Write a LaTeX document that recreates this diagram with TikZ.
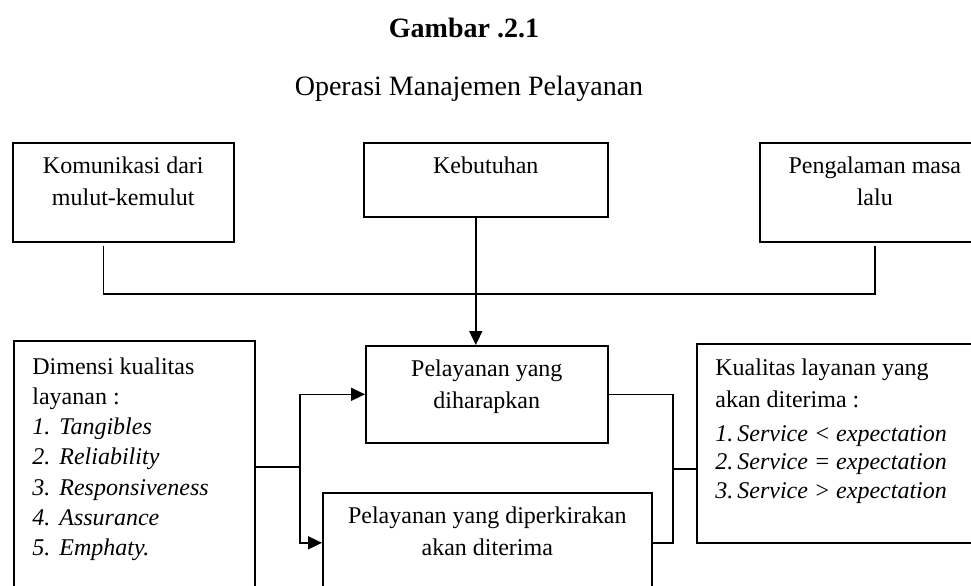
\documentclass[tikz,border=0pt]{standalone}
\usepackage{fontspec}
\setmainfont{Liberation Serif}
\usetikzlibrary{arrows.meta,positioning}
\tikzset{
  box/.style={draw, line width=0.8pt, inner sep=0pt, anchor=north west},
  txt/.style={font=\fontsize{12}{16}\selectfont, align=center, inner sep=0pt},
  lst/.style={font=\fontsize{12}{15.1}\selectfont, align=left, inner sep=0pt},
  ln/.style={line width=0.8pt},
  arr/.style={-{Triangle[length=7pt,width=6.5pt]}, line width=0.8pt}
}
\newcommand{\itm}[2]{\textit{#1.\hspace{4.5pt}#2}}

\begin{document}
\begin{tikzpicture}[x=0.5pt,y=-0.5pt]
\useasboundingbox (0,0) rectangle (971,585);
\clip (0,0) rectangle (971,585);

% ---------------- Title ----------------
\node[font=\fontsize{14}{16}\selectfont\bfseries, anchor=base, inner sep=0pt] (ttl) at (464,37) {Gambar .2.1};
\node[font=\fontsize{14}{16}\selectfont, anchor=base, inner sep=0pt] (sub) at (469,95) {Operasi Manajemen Pelayanan};

% ---------------- Top row ----------------
\node[box, minimum width=110.5pt, minimum height=49.5pt] (kom) at (12,142) {};
\node[txt, below=7.3pt of kom.north] {Komunikasi dari\\mulut-kemulut};
\node[box, minimum width=122pt, minimum height=37pt] (keb) at (363,142) {};
\node[txt, below=7.3pt of keb.north] {Kebutuhan};
\node[box, minimum width=115pt, minimum height=49.5pt] (pen) at (759,142) {};
\node[txt, below=7.3pt of pen.north] {Pengalaman masa\\lalu};

% ---------------- Middle boxes ----------------
\node[box, minimum width=121pt, minimum height=48.5pt] (hrp) at (365,345) {};
\node[txt, below=7.3pt of hrp.north] {Pelayanan yang\\diharapkan};
\node[box, minimum width=164.5pt, minimum height=50pt] (prk) at (322,492) {};
\node[txt, below=7.3pt of prk.north] {Pelayanan yang diperkirakan\\akan diterima};

% ---------------- Left: dimensions ----------------
\node[box, minimum width=120.5pt, minimum height=127pt] (dim) at (13,340) {};
\node[lst, anchor=north west, below right=8.6pt and 9.5pt of dim.north west]
  {Dimensi kualitas\\layanan :\\\itm{1}{Tangibles}\\\itm{2}{Reliability}\\\itm{3}{Responsiveness}\\\itm{4}{Assurance}\\\itm{5}{Emphaty.}};

% ---------------- Right: result ----------------
\node[box, minimum width=145pt, minimum height=99.5pt] (kual) at (696,343) {};
\node[lst, font=\fontsize{12}{16.3}\selectfont, anchor=north west, below right=7.5pt and 9.5pt of kual.north west]
  {Kualitas layanan yang\\akan diterima :};
\node[lst, font=\fontsize{12}{14.3}\selectfont, anchor=north west, below right=41pt and 9.5pt of kual.north west]
  {\textit{1.\,Service < expectation}\\\textit{2.\,Service = expectation}\\\textit{3.\,Service > expectation}};

% ---------------- Connectors ----------------
\coordinate (komft) at ([xshift=-10pt,yshift=-1.5pt]kom.south);
\coordinate (penft) at ([yshift=-1.5pt]pen.south);
\coordinate (bus) at (475,294);
\draw[ln] (komft) |- (bus) -| (penft);
\draw[arr] ([xshift=-5pt]keb.south) -- ([xshift=-5pt]keb.south |- hrp.north);

\coordinate (split) at (300,467);
\draw[ln] (dim.east |- split) -- (split);
\draw[arr] (split) |- (hrp.west);
\draw[arr] (split) |- (prk.west);

\coordinate (merge) at (673,469);
\draw[ln] (hrp.east) -| (merge) |- (prk.east);
\draw[ln] (merge) -- (merge -| kual.west);

\end{tikzpicture}
\end{document}
